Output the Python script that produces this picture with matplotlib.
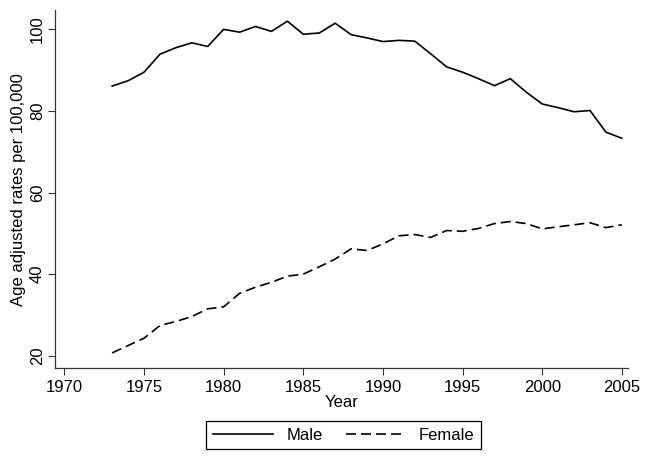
import matplotlib
matplotlib.use("Agg")
import matplotlib.pyplot as plt

plt.rcParams['font.family'] = ['Liberation Sans', 'DejaVu Sans']

years = list(range(1973, 2006))
male = [86.1, 87.4, 89.5, 93.9, 95.5, 96.7, 95.8, 100.0, 99.3, 100.7,
        99.5, 102.0, 98.8, 99.1, 101.5, 98.7, 97.9, 97.0, 97.3, 97.1,
        94.0, 90.8, 89.5, 87.9, 86.2, 87.9, 84.6, 81.7, 80.8, 79.8,
        80.1, 74.8, 73.3]
female = [20.7, 22.5, 24.3, 27.4, 28.4, 29.6, 31.5, 32.0, 35.3, 36.8,
          38.0, 39.5, 40.0, 41.8, 43.7, 46.2, 45.8, 47.4, 49.4, 49.7,
          49.0, 50.7, 50.5, 51.2, 52.4, 52.9, 52.4, 51.1, 51.6, 52.1,
          52.6, 51.4, 52.1]
xticks = list(range(1970, 2006, 5))
yticks = [20, 40, 60, 80, 100]

fig = plt.figure(figsize=(6.45, 4.62), dpi=100)
ax = fig.add_axes([0.085, 0.2035, 0.889, 0.7745])

ax.plot(years, male, color='black', lw=1.2, label='Male')
ax.plot(years, female, color='black', lw=1.2, dashes=(6, 3), label='Female')

ax.set_xlim(1969.4, 2005.4)
ax.set_ylim(17.0, 104.7)
ax.set_xticks(xticks)
ax.set_yticks(yticks)
ax.tick_params(axis='both', labelsize=12, length=5, width=0.8, color='#333333')
ax.tick_params(axis='y', pad=2)
for lab in ax.get_yticklabels():
    lab.set_rotation(90)
    lab.set_va('center')
for s in ['top', 'right']:
    ax.spines[s].set_visible(False)
for s in ['left', 'bottom']:
    ax.spines[s].set_linewidth(0.9)
    ax.spines[s].set_color('#333333')

ax.set_xlabel('Year', fontsize=12, labelpad=0)
ax.set_ylabel('Age adjusted rates per 100,000', fontsize=12, labelpad=3)

leg = fig.legend(loc='center', bbox_to_anchor=(0.533, 0.058), ncol=2,
                 fontsize=12, handlelength=3.6, columnspacing=1.4,
                 fancybox=False, edgecolor='black', framealpha=1)
leg.get_frame().set_linewidth(0.9)

fig.savefig('out.png', dpi=100)
